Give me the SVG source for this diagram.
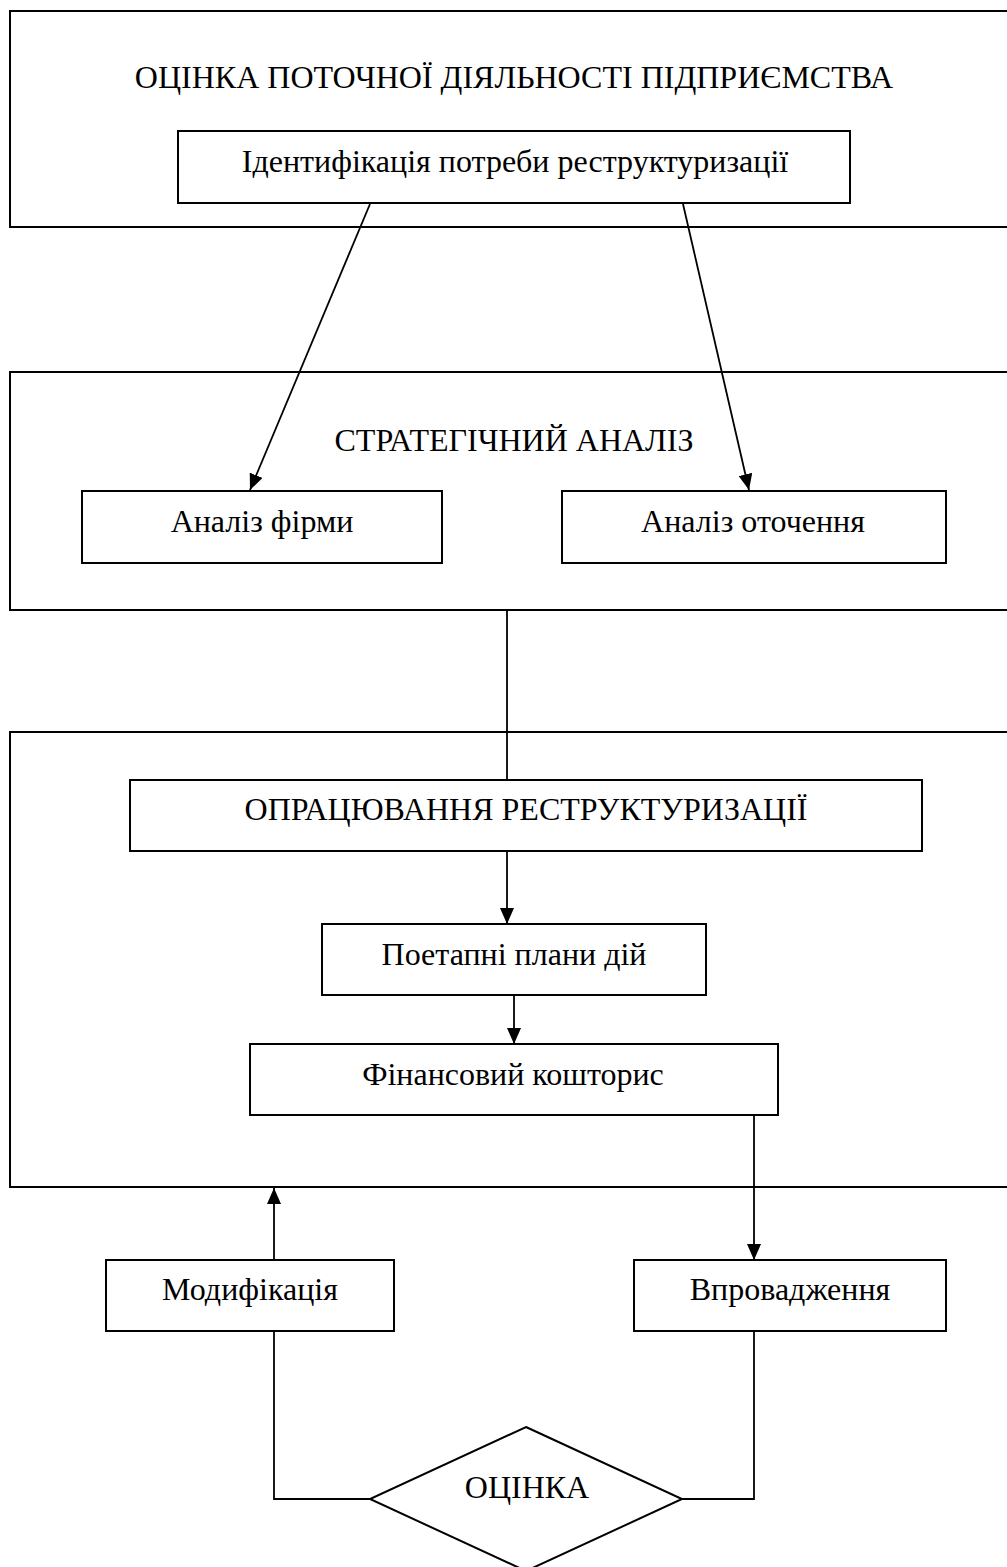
<svg xmlns="http://www.w3.org/2000/svg" width="1007" height="1567" viewBox="0 0 1007 1567">
<style>
.box{fill:none;stroke:#000;stroke-width:2}
.lbl{font-family:"Liberation Serif","Times New Roman",serif;font-size:32px;fill:#000;text-anchor:middle}
.con{fill:none;stroke:#000;stroke-width:1.8}
</style>
<defs>
<marker id="ah" viewBox="0 0 16 14" refX="16" refY="7" markerWidth="16" markerHeight="14" markerUnits="userSpaceOnUse" orient="auto">
<path d="M0,0 L16,7 L0,14 Z" fill="#000"/>
</marker>
</defs>
<rect width="1007" height="1567" fill="#fff"/>
<g id="stage1">
<rect class="box" x="10" y="11" width="1010" height="216"/>
<text class="lbl" x="514" y="88">ОЦІНКА ПОТОЧНОЇ ДІЯЛЬНОСТІ ПІДПРИЄМСТВА</text>
</g>
<g id="ident">
<rect class="box" x="178" y="131" width="672" height="72"/>
<text class="lbl" x="515" y="172">Ідентифікація потреби реструктуризації</text>
</g>
<g id="stage2">
<rect class="box" x="10" y="372" width="1010" height="238"/>
<text class="lbl" x="514" y="451">СТРАТЕГІЧНИЙ АНАЛІЗ</text>
</g>
<g id="firm">
<rect class="box" x="82" y="491" width="360" height="72"/>
<text class="lbl" x="262" y="532">Аналіз фірми</text>
</g>
<g id="env">
<rect class="box" x="562" y="491" width="384" height="72"/>
<text class="lbl" x="753" y="532">Аналіз оточення</text>
</g>
<g id="stage3">
<rect class="box" x="10" y="732" width="1010" height="455"/>
</g>
<g id="develop">
<rect class="box" x="130" y="780" width="792" height="71"/>
<text class="lbl" x="526" y="820">ОПРАЦЮВАННЯ РЕСТРУКТУРИЗАЦІЇ</text>
</g>
<g id="plans">
<rect class="box" x="322" y="924" width="384" height="71"/>
<text class="lbl" x="514" y="965">Поетапні плани дій</text>
</g>
<g id="budget">
<rect class="box" x="250" y="1044" width="528" height="71"/>
<text class="lbl" x="513" y="1085">Фінансовий кошторис</text>
</g>
<g id="modify">
<rect class="box" x="106" y="1260" width="288" height="71"/>
<text class="lbl" x="250" y="1300">Модифікація</text>
</g>
<g id="implement">
<rect class="box" x="634" y="1260" width="312" height="71"/>
<text class="lbl" x="790" y="1300">Впровадження</text>
</g>
<g id="evaluate">
<polygon class="box" points="526,1427 682,1499 526,1571 370,1499"/>
<text class="lbl" x="527" y="1498">ОЦІНКА</text>
</g>
<g id="connectors">
<line class="con" x1="370" y1="204" x2="250" y2="490" marker-end="url(#ah)"/>
<line class="con" x1="683" y1="204" x2="749" y2="490" marker-end="url(#ah)"/>
<line class="con" x1="507" y1="611" x2="507" y2="780"/>
<line class="con" x1="507" y1="852" x2="507" y2="924" marker-end="url(#ah)"/>
<line class="con" x1="514" y1="996" x2="514" y2="1044" marker-end="url(#ah)"/>
<line class="con" x1="754" y1="1116" x2="754" y2="1260" marker-end="url(#ah)"/>
<line class="con" x1="274" y1="1259" x2="274" y2="1188" marker-end="url(#ah)"/>
<polyline class="con" points="274,1332 274,1499 370,1499"/>
<polyline class="con" points="754,1332 754,1499 682,1499"/>
</g>
</svg>
